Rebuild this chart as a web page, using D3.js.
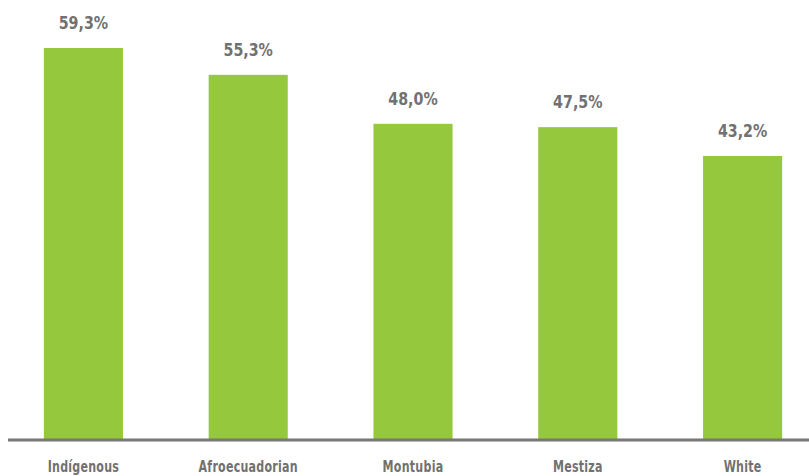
<!DOCTYPE html>
<html>
<head>
<meta charset="utf-8">
<script src="https://cdn.jsdelivr.net/npm/d3@7"></script>
<style>
  body { margin: 0; background: #fff; }
  text { font-family: "DejaVu Sans Condensed", "DejaVu Sans", sans-serif; font-stretch: condensed; font-weight: bold; fill: #717171; }
</style>
</head>
<body>
<svg id="chart"></svg>
<script>
var categories = ["Indígenous", "Afroecuadorian", "Montubia", "Mestiza", "White"];
var values = [59.3, 55.3, 48.0, 47.5, 43.2];
var valueLabels = ["59,3%", "55,3%", "48,0%", "47,5%", "43,2%"];

var svgWidth = 809, svgHeight = 476;
var axisY = 440;
var svg = d3.select("#chart")
    .attr("width", svgWidth)
    .attr("height", svgHeight);

var x = d3.scaleBand()
    .domain(categories)
    .range([1, 825])
    .paddingInner(0.52)
    .paddingOuter(0.26);

var y = d3.scaleLinear()
    .domain([0, 59.3])
    .range([445.8, 48]);

var data = categories.map(function(c, i) {
    return {cat: c, value: values[i], label: valueLabels[i]};
});

svg.selectAll("rect.bar")
    .data(data)
    .enter().append("rect")
    .attr("class", "bar")
    .attr("x", function(d) { return x(d.cat); })
    .attr("y", function(d) { return y(d.value); })
    .attr("width", x.bandwidth())
    .attr("height", function(d) { return axisY - y(d.value); })
    .attr("fill", "#95c83d");

svg.selectAll("text.val")
    .data(data)
    .enter().append("text")
    .attr("class", "val")
    .attr("x", function(d) { return x(d.cat) + x.bandwidth() / 2; })
    .attr("y", function(d) { return y(d.value) - 19; })
    .attr("text-anchor", "middle")
    .attr("font-size", 18)
    .attr("transform", function(d) {
        var cx = x(d.cat) + x.bandwidth() / 2;
        return "translate(" + cx + ",0) scale(0.88,1) translate(" + (-cx) + ",0)";
    })
    .text(function(d) { return d.label; });

// baseline axis
var axis = svg.append("g")
    .attr("transform", "translate(0," + axisY + ")")
    .call(d3.axisBottom(x).tickSize(0).tickPadding(22));
axis.select(".domain")
    .attr("d", "M8,0H809")
    .attr("stroke", "#777")
    .attr("stroke-width", 3);
axis.selectAll("text")
    .attr("font-size", 15)
    .attr("fill", "#717171")
    .attr("dy", "0.68em")
    .attr("letter-spacing", 0.3)
    .attr("transform", "scale(0.82,1)");
</script>
</body>
</html>
